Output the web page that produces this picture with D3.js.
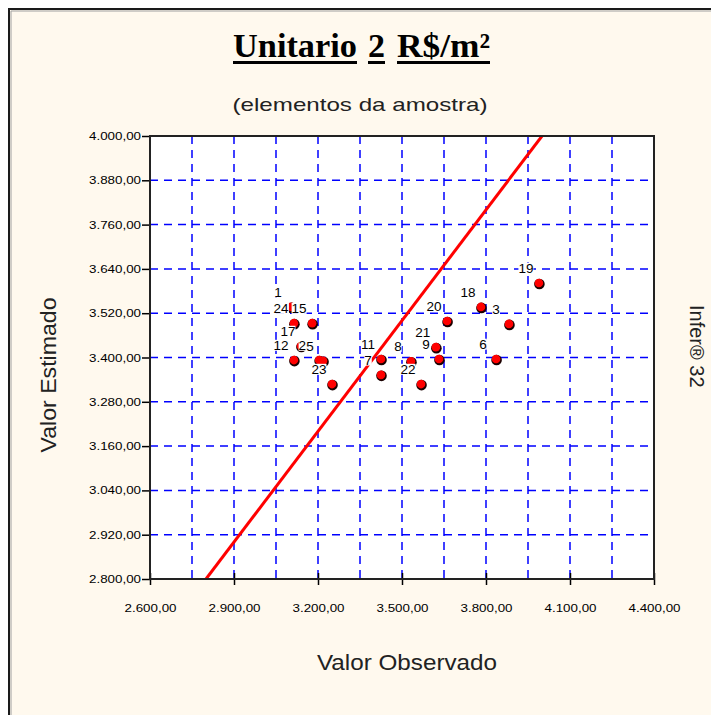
<!DOCTYPE html>
<html>
<head>
<meta charset="utf-8">
<script src="https://cdn.jsdelivr.net/npm/d3@7"></script>
<style>
  body { margin: 0; background: #ffffff; }
  svg { display: block; }
  .tick text { font-family: "Liberation Sans", Arial, sans-serif; font-size: 11px; fill: #000; }
</style>
</head>
<body>
<div id="chart"></div>
<script>
// Data (Valor Observado x Valor Estimado)
var pointIds  = ["1", "24", "15", "17", "12", "25", "5", "23", "11", "7", "8", "22", "21", "9", "20", "18", "3", "6", "19"];
var observed  = [3104, 3114, 3179, 3139, 3114, 3204, 3218, 3250, 3425, 3425, 3532, 3568, 3621, 3632, 3661, 3782, 3882, 3836, 3989];
var estimated = [3537, 3493, 3493, 3431, 3393, 3393, 3391, 3328, 3396, 3353, 3390, 3328, 3428, 3396, 3499, 3537, 3491, 3396, 3602];

// Axis ticks
var xTicks = [2600, 2900, 3200, 3500, 3800, 4100, 4400];
var xGrid = [2750, 2900, 3050, 3200, 3350, 3500, 3650, 3800, 3950, 4100, 4250];
var yTicks = [2800, 2920, 3040, 3160, 3280, 3400, 3520, 3640, 3760, 3880, 4000];
var yGrid = [2920, 3040, 3160, 3280, 3400, 3520, 3640, 3760, 3880];

var svgWidth = 711;
var svgHeight = 715;

var margin = { top: 136, right: 57, bottom: 136, left: 150 };
var width = svgWidth - margin.left - margin.right;   // 504
var height = 579 - margin.top;                       // 443

var svg = d3.select("#chart")
  .append("svg")
  .attr("width", svgWidth)
  .attr("height", svgHeight);

// cream frame
svg.append("rect")
  .attr("x", 9).attr("y", 9)
  .attr("width", 720).attr("height", 720)
  .attr("fill", "#fff9ee")
  .attr("stroke", "#1a1a1a")
  .attr("stroke-width", 2);
svg.append("path")
  .attr("d", "M11,730 V11 H730")
  .attr("fill", "none")
  .attr("stroke", "#a0a0a0")
  .attr("stroke-width", 1);

// pt-BR number format
var br = d3.formatLocale({ decimal: ",", thousands: ".", grouping: [3], currency: ["R$", ""] });
var fmt = br.format(",.2f");

var x = d3.scaleLinear().domain([2600, 4400]).range([0, width]);
var y = d3.scaleLinear().domain([2800, 4000]).range([height, 0]);

var chartGroup = svg.append("g")
  .attr("transform", `translate(${margin.left}, ${margin.top})`);

// plot background
chartGroup.append("rect")
  .attr("width", width).attr("height", height)
  .attr("fill", "#ffffff");

// dashed grid
chartGroup.append("g")
  .selectAll("line")
  .data(xGrid)
  .enter()
  .append("line")
  .attr("x1", d => x(d)).attr("x2", d => x(d))
  .attr("y1", 0).attr("y2", height)
  .attr("stroke", "#0000ff")
  .attr("stroke-width", 1.5)
  .attr("stroke-dasharray", "8,6");

chartGroup.append("g")
  .selectAll("line")
  .data(yGrid)
  .enter()
  .append("line")
  .attr("y1", d => y(d)).attr("y2", d => y(d))
  .attr("x1", 0).attr("x2", width)
  .attr("stroke", "#0000ff")
  .attr("stroke-width", 1.5)
  .attr("stroke-dasharray", "8,6");

// y = x reference line
chartGroup.append("clipPath").attr("id", "plotclip")
  .append("rect").attr("width", width).attr("height", height);

chartGroup.append("line")
  .attr("clip-path", "url(#plotclip)")
  .attr("x1", x(2800)).attr("y1", y(2800))
  .attr("x2", x(4000)).attr("y2", y(4000))
  .attr("stroke", "#ff0000")
  .attr("stroke-width", 3);

// axes
var leftAxis = d3.axisLeft(y)
  .tickValues(yTicks)
  .tickFormat(fmt)
  .tickSize(8)
  .tickPadding(1);

var yAxisG = chartGroup.append("g").call(leftAxis);
yAxisG.select(".domain").remove();
yAxisG.selectAll(".tick line").attr("stroke", "#000").attr("stroke-width", 1.5);
yAxisG.selectAll(".tick text").attr("textLength", 52).attr("lengthAdjust", "spacingAndGlyphs");

var bottomAxis = d3.axisBottom(x)
  .tickValues(xTicks)
  .tickFormat(fmt)
  .tickSize(6)
  .tickPadding(19);

var xAxisG = chartGroup.append("g")
  .attr("transform", `translate(0, ${height})`)
  .call(bottomAxis);
xAxisG.select(".domain").remove();
xAxisG.selectAll(".tick line").attr("y1", -6).attr("stroke", "#000").attr("stroke-width", 1.5);
xAxisG.selectAll(".tick text").attr("textLength", 52).attr("lengthAdjust", "spacingAndGlyphs");

// plot border
chartGroup.append("rect")
  .attr("width", width).attr("height", height)
  .attr("fill", "none")
  .attr("stroke", "#222")
  .attr("stroke-width", 2);

// points
var pts = pointIds.map(function (id, i) {
  return { id: id, obs: observed[i], est: estimated[i] };
});

chartGroup.selectAll(".shadow")
  .data(pts)
  .enter()
  .append("circle")
  .attr("class", "shadow")
  .attr("cx", d => x(d.obs) + 0.5)
  .attr("cy", d => y(d.est) + 1)
  .attr("r", 5.3)
  .attr("fill", "#1a0000");

chartGroup.selectAll(".dot")
  .data(pts)
  .enter()
  .append("circle")
  .attr("class", "dot")
  .attr("cx", d => x(d.obs))
  .attr("cy", d => y(d.est))
  .attr("r", 4.3)
  .attr("fill", "#ff0000");

// point labels on white boxes
var labels = chartGroup.selectAll(".lbl")
  .data(pts)
  .enter()
  .append("g")
  .attr("class", "lbl")
  .attr("transform", d => `translate(${x(d.obs) - 13}, ${y(d.est) - 15})`);

labels.append("rect").attr("fill", "#ffffff");
labels.append("text")
  .attr("text-anchor", "middle")
  .attr("dy", "0.35em")
  .style("font-family", "Liberation Sans, Arial, sans-serif")
  .style("font-size", "13.5px")
  .text(d => d.id);

labels.each(function () {
  var g = d3.select(this);
  var b = g.select("text").node().getBBox();
  g.select("rect")
    .attr("x", b.x).attr("y", b.y + 2)
    .attr("width", b.width).attr("height", b.height - 4);
});

// titles
var title = svg.append("g")
  .style("font-family", "Liberation Serif, Times New Roman, serif")
  .style("font-weight", "bold")
  .style("font-size", "33px");

var words = [
  { t: "Unitario", x: 233, w: 124 },
  { t: "2", x: 368, w: 17 },
  { t: "R$/m\u00b2", x: 397, w: 93 }
];
words.forEach(function (wd) {
  title.append("text")
    .attr("x", wd.x).attr("y", 57)
    .attr("textLength", wd.w)
    .attr("lengthAdjust", "spacingAndGlyphs")
    .text(wd.t);
  title.append("rect")
    .attr("x", wd.x).attr("y", 61)
    .attr("width", wd.w).attr("height", 3)
    .attr("fill", "#000");
});

svg.append("text")
  .attr("x", 360).attr("y", 111)
  .attr("text-anchor", "middle")
  .attr("textLength", 255)
  .attr("lengthAdjust", "spacingAndGlyphs")
  .style("font-family", "Liberation Sans, Arial, sans-serif")
  .style("font-size", "19px")
  .style("fill", "#222")
  .text("(elementos da amostra)");

// axis titles
svg.append("text")
  .attr("transform", "rotate(-90)")
  .attr("x", -375).attr("y", 56)
  .attr("text-anchor", "middle")
  .attr("textLength", 155)
  .attr("lengthAdjust", "spacingAndGlyphs")
  .style("font-family", "Liberation Sans, Arial, sans-serif")
  .style("font-size", "22px")
  .style("fill", "#222")
  .text("Valor Estimado");

svg.append("text")
  .attr("x", 407).attr("y", 670)
  .attr("text-anchor", "middle")
  .attr("textLength", 180)
  .attr("lengthAdjust", "spacingAndGlyphs")
  .style("font-family", "Liberation Sans, Arial, sans-serif")
  .style("font-size", "22px")
  .style("fill", "#222")
  .text("Valor Observado");

svg.append("text")
  .attr("transform", "translate(690, 305) rotate(90)")
  .attr("text-anchor", "start")
  .style("font-family", "Liberation Sans, Arial, sans-serif")
  .style("font-size", "20px")
  .style("fill", "#222")
  .text("Infer\u00ae 32");
</script>
</body>
</html>
